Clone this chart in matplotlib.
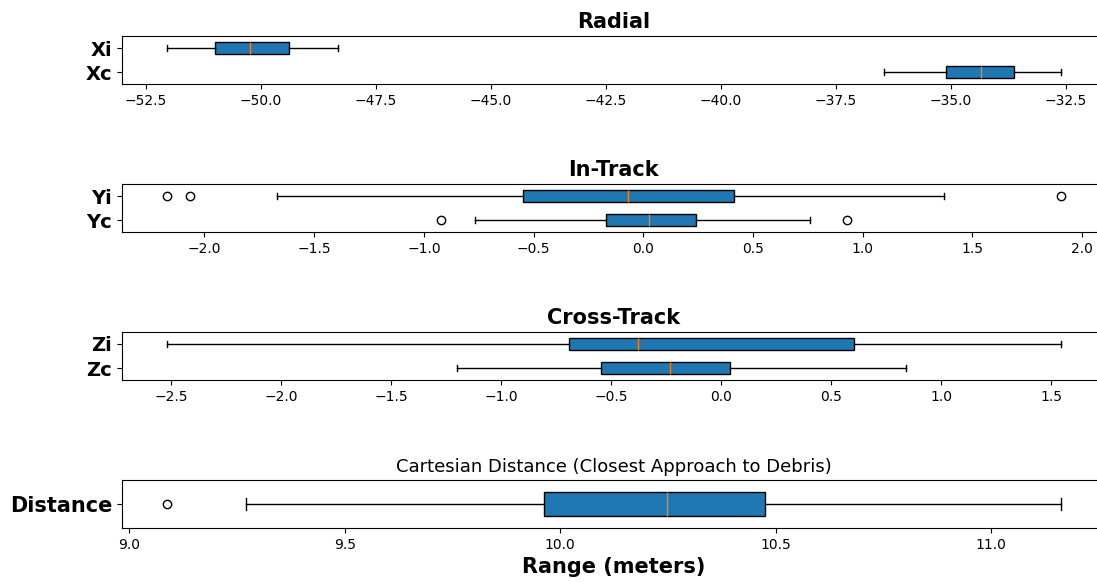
#!/usr/bin/env python3
"""
Box plots of relative position components and closest-approach distance
"""

import matplotlib
matplotlib.use("Agg")
import matplotlib.pyplot as plt

# box stats: [whisker low, q1, median, q3, whisker high]
xi_stats = [-52.04, -51.00, -50.24, -49.38, -48.31]
xc_stats = [-36.44, -35.10, -34.34, -33.62, -32.60]
xi_fliers = []
xc_fliers = []

yi_stats = [-1.668, -0.549, -0.069, 0.415, 1.372]
yc_stats = [-0.768, -0.168, 0.027, 0.240, 0.761]
yi_fliers = [-2.172, -2.065, 1.904]
yc_fliers = [-0.921, 0.929]

zi_stats = [-2.52, -0.692, -0.377, 0.602, 1.544]
zc_stats = [-1.201, -0.548, -0.232, 0.040, 0.840]
zi_fliers = []
zc_fliers = []

dist_stats = [9.271, 9.963, 10.248, 10.476, 11.162]
dist_fliers = [9.087]

panels = [
    ("Radial", ["Xi", "Xc"], [xi_stats, xc_stats], [xi_fliers, xc_fliers]),
    ("In-Track", ["Yi", "Yc"], [yi_stats, yc_stats], [yi_fliers, yc_fliers]),
    ("Cross-Track", ["Zi", "Zc"], [zi_stats, zc_stats], [zi_fliers, zc_fliers]),
    ("Cartesian Distance (Closest Approach to Debris)", ["Distance"],
     [dist_stats], [dist_fliers]),
]


def to_bxp(label, s, fl):
    return {"label": label, "whislo": s[0], "q1": s[1], "med": s[2],
            "q3": s[3], "whishi": s[4], "fliers": fl}


def main():
    fig, axes = plt.subplots(4, 1, figsize=(10.97, 5.82), dpi=100)
    # right edge sits just past the figure, as in the cropped original
    fig.subplots_adjust(left=0.1112, right=1.008, top=0.9381,
                        bottom=0.0928, hspace=2.08)

    for ax, (title, labels, stats, fliers) in zip(axes, panels):
        # top label first -> reverse so it lands on the highest position
        bx = [to_bxp(l, s, f) for l, s, f in zip(labels, stats, fliers)][::-1]
        ax.bxp(bx, orientation="horizontal", patch_artist=True, widths=0.5,
               boxprops=dict(facecolor="#1f77b4", edgecolor="black"))
        for lab in ax.get_yticklabels():
            lab.set_fontsize(14 if len(labels) > 1 else 15)
            lab.set_fontweight("bold")
        if len(labels) > 1:
            ax.set_title(title, fontsize=15, fontweight="bold")
        else:
            ax.set_title(title, fontsize=13)

    axes[-1].set_xlabel("Range (meters)", fontsize=15, fontweight="bold")

    fig.savefig("out.png", dpi=100)


if __name__ == "__main__":
    main()
